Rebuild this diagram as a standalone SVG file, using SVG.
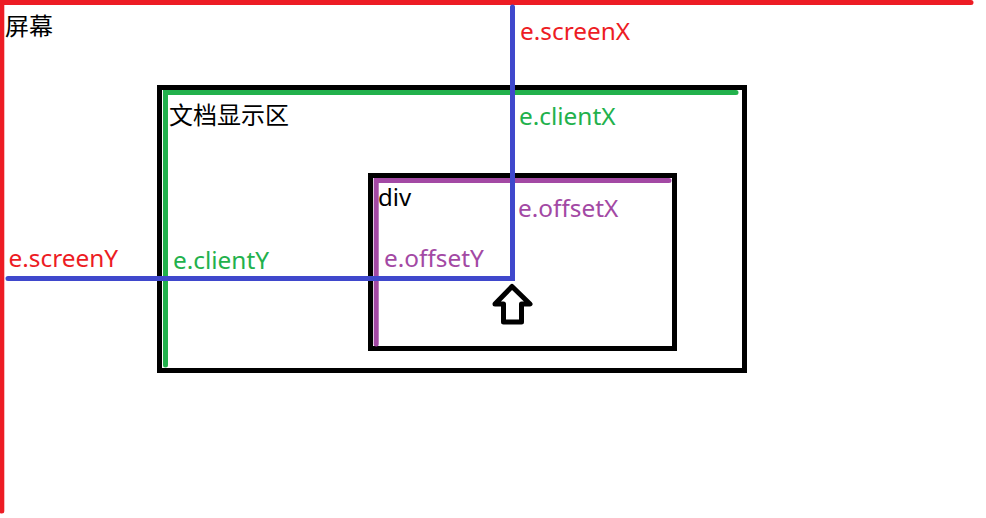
<svg xmlns="http://www.w3.org/2000/svg" width="986" height="518" viewBox="0 0 986 518">
<style>
.box{fill:none;stroke:#000;stroke-width:5}
.ln{fill:none;stroke-width:5;stroke-linecap:round}
.red{stroke:#ed1c24}.green{stroke:#22b14c}.purple{stroke:#a349a4}.blue{stroke:#3f48cc}
text{font-family:"Noto Sans","Noto Sans CJK SC",sans-serif;font-size:24px}
.v{font-size:24.400px}
.k{fill:#000}.tr{fill:#ed1c24}.tg{fill:#22b14c}.tp{fill:#a349a4}
</style>
<rect width="986" height="518" fill="#fff"/>
<g id="screen">
<path class="ln red" d="M1.800 511V2.500H971"/>
<text class="k" x="5" y="35" font-family="Noto Sans CJK SC">屏幕</text>
</g>
<g id="document">
<rect class="box" x="159.500" y="87.500" width="585" height="283"/>
<path class="ln green" d="M165.500 365V92.500H736"/>
<text class="k" x="169" y="124">文档显示区</text>
</g>
<g id="div">
<rect class="box" x="370.500" y="175.500" width="304" height="173"/>
<path class="ln purple" d="M376.200 344V180.500H669"/>
<text class="k" x="378" y="206">div</text>
</g>
<g id="connectors">
<path class="ln blue" d="M8 278.500H512.500V7"/>
</g>
<g id="cursor">
<path d="M512 286.500L530 304H521.500V322H503.500V304H495Z" fill="#fff" stroke="#000" stroke-width="5" stroke-linejoin="round"/>
</g>
<g id="labels">
<text class="tr v" x="520" y="40">e.screenX</text>
<text class="tg v" x="519" y="125">e.clientX</text>
<text class="tp v" x="518" y="217">e.offsetX</text>
<text class="tr v" x="8.500" y="267">e.screenY</text>
<text class="tg v" x="173" y="269">e.clientY</text>
<text class="tp v" x="384" y="266.500">e.offsetY</text>
</g>
</svg>
